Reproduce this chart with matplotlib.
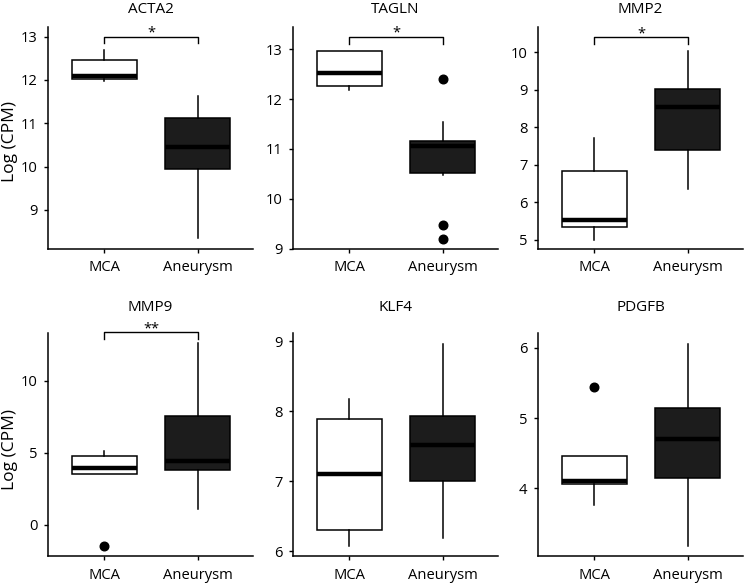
import matplotlib
matplotlib.use("Agg")
import matplotlib.pyplot as plt

plt.rcParams['font.family'] = ['Open Sans', 'DejaVu Sans']
plt.rcParams['font.size'] = 10.6

# ---- data ----
genes = ['ACTA2', 'TAGLN', 'MMP2', 'MMP9', 'KLF4', 'PDGFB']
groups = ['MCA', 'Aneurysm']

mca_whislo = [11.98, 12.19, 5.00, 3.50, 6.08, 3.76]
mca_q1     = [12.02, 12.26, 5.33, 3.52, 6.30, 4.06]
mca_med    = [12.09, 12.53, 5.53, 3.98, 7.11, 4.11]
mca_q3     = [12.45, 12.97, 6.83, 4.75, 7.89, 4.46]
mca_whishi = [12.69, 12.97, 7.71, 5.09, 8.18, 4.46]
mca_fliers = [[], [], [], [-1.45], [], [5.44]]

an_whislo = [8.35, 10.48, 6.36, 1.10, 6.19, 3.18]
an_q1     = [9.94, 10.52, 7.38, 3.81, 7.01, 4.14]
an_med    = [10.46, 11.06, 8.53, 4.43, 7.52, 4.70]
an_q3     = [11.13, 11.16, 9.02, 7.55, 7.94, 5.14]
an_whishi = [11.63, 11.54, 10.04, 12.60, 8.97, 6.05]
an_fliers = [[], [12.40, 9.47, 9.20], [], [], [], []]

sig_labels = ['*', '*', '*', '**', '', '']
sig_y = [13.0, 13.25, 10.40, 13.35, None, None]

ylims = [(8.11, 13.22), (9.0, 13.45), (4.76, 10.67), (-2.13, 13.3), (5.94, 9.12), (3.04, 6.21)]
yticks = [[9, 10, 11, 12, 13], [9, 10, 11, 12, 13], [5, 6, 7, 8, 9, 10],
          [0, 5, 10], [6, 7, 8, 9], [4, 5, 6]]

# ---- layout (pixels) ----
W, H = 745, 585
fig = plt.figure(figsize=(W / 100, H / 100), dpi=100)
lefts = [48, 293, 538]
rows = [(27, 248.5), (333, 555.7)]
aw = 205

dark = '#1c1c1c'
for i, g in enumerate(genes):
    r, c = divmod(i, 3)
    top, bot = rows[r]
    ax = fig.add_axes([lefts[c] / W, 1 - bot / H, aw / W, (bot - top) / H])
    stats = [
        dict(label=groups[0], whislo=mca_whislo[i], q1=mca_q1[i], med=mca_med[i],
             q3=mca_q3[i], whishi=mca_whishi[i], fliers=mca_fliers[i]),
        dict(label=groups[1], whislo=an_whislo[i], q1=an_q1[i], med=an_med[i],
             q3=an_q3[i], whishi=an_whishi[i], fliers=an_fliers[i]),
    ]
    bp = ax.bxp(stats, positions=[1, 2], widths=0.70, patch_artist=True,
                showcaps=False,
                boxprops=dict(linewidth=1.1, edgecolor='black'),
                whiskerprops=dict(linewidth=1.1, color='black'),
                medianprops=dict(linewidth=3.2, color='black', solid_capstyle='butt'),
                flierprops=dict(marker='o', markerfacecolor='black', markeredgecolor='black',
                                markersize=6.2))
    bp['boxes'][0].set_facecolor('white')
    bp['boxes'][1].set_facecolor(dark)
    for b in bp['boxes']:
        b.set_zorder(2)
    for m in bp['medians']:
        m.set_zorder(3)

    ax.set_xlim(0.397, 2.592)
    ax.set_ylim(*ylims[i])
    ax.set_yticks(yticks[i])
    ax.set_xticks([1, 2])
    ax.set_xticklabels(groups)
    for s in ['top', 'right']:
        ax.spines[s].set_visible(False)
    for s in ['left', 'bottom']:
        ax.spines[s].set_linewidth(1.1)
    ax.tick_params(axis='both', direction='out', length=3, width=1.0, labelsize=10.6)
    ax.tick_params(axis='x', pad=5.5)
    ax.tick_params(axis='y', pad=4.5)
    ax.set_title(g, fontsize=11, pad=9.9 if r == 0 else 16)

    if sig_labels[i]:
        y = sig_y[i]
        drop = 0.03 * (ylims[i][1] - ylims[i][0])
        ax.plot([1, 1, 2, 2], [y - drop, y, y, y - drop], color='black', lw=1.0,
                clip_on=False)
        ax.text(1.5, y, sig_labels[i], ha='center', va='baseline', fontsize=10.5,
                clip_on=False)

fig.text(10 / W, 1 - 141.5 / H, 'Log (CPM)', rotation=90, ha='center', va='center', fontsize=12.5)
fig.text(10 / W, 1 - 449 / H, 'Log (CPM)', rotation=90, ha='center', va='center', fontsize=12.5)

fig.savefig('out.png', dpi=100)
